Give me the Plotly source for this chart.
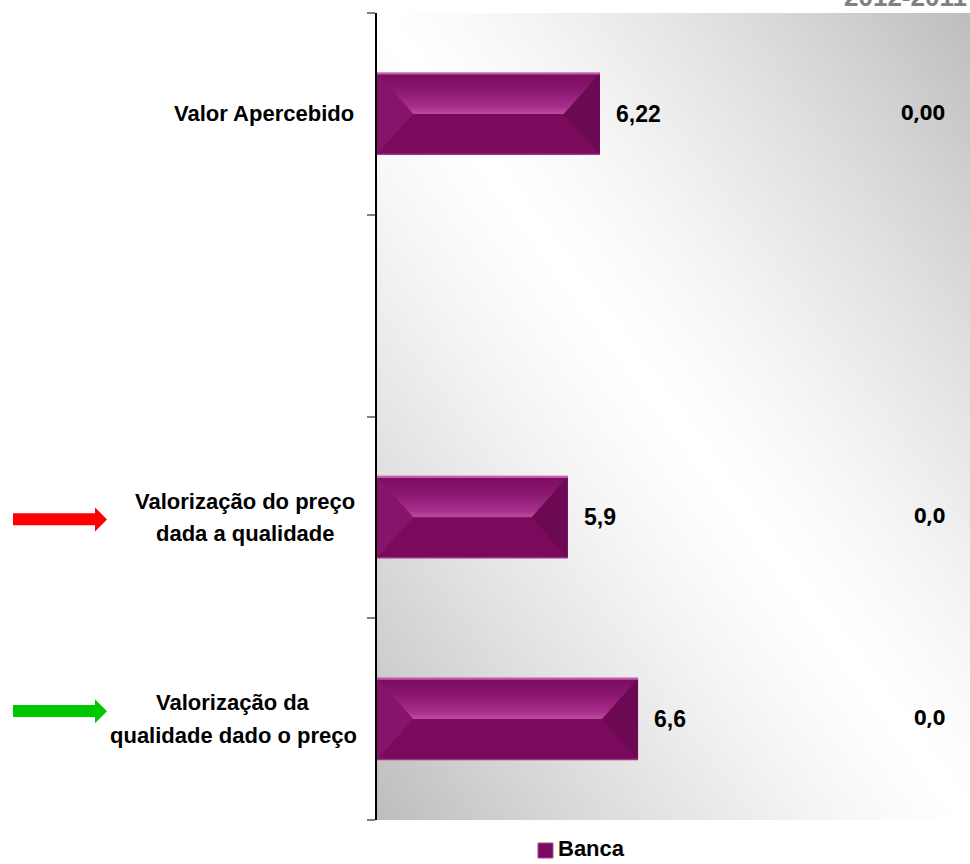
import base64
import struct
import zlib

import plotly.graph_objects as go

# ---------------- data ----------------
categorias = [
    "Valor Apercebido",
    "",
    "Valorização do preço<br>dada a qualidade",
    "Valorização da<br>qualidade dado o preço",
]
banca_categorias = [
    "Valor Apercebido",
    "Valorização do preço<br>dada a qualidade",
    "Valorização da<br>qualidade dado o preço",
]
banca_valores = [6.22, 5.9, 6.6]
banca_decimais = [2, 1, 1]
variacao_textos = ["0,00", "0,0", "0,0"]
setas = {
    "Valorização do preço<br>dada a qualidade": "#ff0000",
    "Valorização da<br>qualidade dado o preço": "#00c800",
}
serie_nome = "Banca"
titulo_periodo = "2012-2011"

# ---------------- layout geometry ----------------
W, H = 970, 864
ML, MT, MB, MR = 377, 13, 44, 0
PW, PH = W - ML - MR, H - MT - MB
X_MIN, X_MAX = 4.0, 9.906
BAR_W = 0.4
CAT_PX = PH / len(categorias)

BAR_COLOUR = "#7a0a5d"


def px_x(px):
    """page pixel x -> paper x"""
    return (px - ML) / PW


def px_y(py):
    """page pixel y -> paper y"""
    return 1 - (py - MT) / PH


def y_of(cat):
    return categorias.index(cat)


# ---------------- diagonal grey background (PNG built in memory) ----------------
def gradient_png(w, h):
    diag = (w * w + h * h) ** 0.5
    dmax = w * h / diag
    rows = []
    for j in range(h):
        py = j + 0.5
        row = bytearray(w + 1)
        for i in range(w):
            px = i + 0.5
            d = abs(px * h - py * w) / diag
            t = min(d / dmax, 1.0)
            row[i + 1] = int(round(255 - 66 * t ** 1.3))
        rows.append(bytes(row))
    raw = b"".join(rows)

    def chunk(tag, data):
        c = struct.pack(">I", len(data)) + tag + data
        return c + struct.pack(">I", zlib.crc32(tag + data) & 0xFFFFFFFF)

    png = b"\x89PNG\r\n\x1a\n"
    png += chunk(b"IHDR", struct.pack(">IIBBBBB", w, h, 8, 0, 0, 0, 0))
    png += chunk(b"IDAT", zlib.compress(raw, 9))
    png += chunk(b"IEND", b"")
    return "data:image/png;base64," + base64.b64encode(png).decode()


FONT = "Liberation Sans, Arial, sans-serif"

fig = go.Figure()

# main bars
fig.add_trace(go.Bar(
    x=banca_valores,
    y=[y_of(c) for c in banca_categorias],
    orientation="h",
    width=BAR_W,
    name=serie_nome,
    marker=dict(color=BAR_COLOUR, line=dict(color="#9c3584", width=1.2)),
    hoverinfo="skip",
    showlegend=False,
))

# bevel facets on each bar
BEV = 0.36
for cat, v in zip(banca_categorias, banca_valores):
    yc = y_of(cat)
    y0, y1 = yc - BAR_W / 2, yc + BAR_W / 2
    # upper facet with a vertical highlight gradient
    fig.add_trace(go.Scatter(
        x=[X_MIN, v, v - BEV, X_MIN + BEV, X_MIN],
        y=[y0, y0, yc, yc, y0],
        mode="lines", line=dict(width=0), fill="toself",
        fillgradient=dict(type="vertical",
                          colorscale=[[0, "#c04aa0"], [0.18, "#a52e8a"],
                                      [0.6, "#8a1670"], [1, "#7c0c5f"]]),
        showlegend=False, hoverinfo="skip",
    ))
    # lower facet
    fig.add_trace(go.Scatter(
        x=[X_MIN + BEV, v - BEV, v, X_MIN, X_MIN + BEV],
        y=[yc, yc, y1, y1, yc],
        mode="lines", line=dict(width=0), fill="toself", fillcolor="#790a5c",
        showlegend=False, hoverinfo="skip",
    ))
    # left facet
    fig.add_trace(go.Scatter(
        x=[X_MIN, X_MIN + BEV, X_MIN, X_MIN],
        y=[y0, yc, y1, y0],
        mode="lines", line=dict(width=0), fill="toself", fillcolor="#86146b",
        showlegend=False, hoverinfo="skip",
    ))
    # right facet
    fig.add_trace(go.Scatter(
        x=[v, v - BEV, v, v],
        y=[y0, yc, y1, y0],
        mode="lines", line=dict(width=0), fill="toself", fillcolor="#6c0953",
        showlegend=False, hoverinfo="skip",
    ))
    # thin top highlight and bottom edge
    fig.add_shape(type="line", xref="x", yref="y", x0=X_MIN, x1=v, y0=y0, y1=y0,
                  line=dict(color="#c85aaa", width=2))
    fig.add_shape(type="line", xref="x", yref="y", x0=X_MIN, x1=v, y0=y1, y1=y1,
                  line=dict(color="#9a3382", width=1.5))

annotations = []

# category labels, one annotation per line, centred in a block ending left of the axis
label_centres_px = [264, 0, 245, 233]
LINE_PX = 32.5
for i, cat in enumerate(categorias):
    if not cat:
        continue
    lines = cat.split("<br>")
    n = len(lines)
    for k, line in enumerate(lines):
        off = (k - (n - 1) / 2) * LINE_PX
        annotations.append(dict(
            x=px_x(label_centres_px[i]), xref="paper", xanchor="center",
            y=i, yref="y", yanchor="middle", yshift=-off,
            text=line, showarrow=False,
            font=dict(family=FONT, size=22, color="black", weight="bold"),
        ))

# value labels at the bar ends
for cat, v, d in zip(banca_categorias, banca_valores, banca_decimais):
    annotations.append(dict(
        x=v, xref="x", xanchor="left", xshift=14,
        y=y_of(cat), yref="y", yanchor="middle",
        text=format(v, f".{d}f").replace(".", ","), showarrow=False,
        font=dict(family=FONT, size=23, color="black", weight="bold"),
    ))

# variation column on the right
for cat, t in zip(banca_categorias, variacao_textos):
    annotations.append(dict(
        x=px_x(947), xref="paper", xanchor="right",
        y=y_of(cat), yref="y", yanchor="middle", yshift=3,
        text=t, showarrow=False,
        font=dict(family="Open Sans, sans-serif", size=22, color="black", weight="bold"),
    ))

# period heading at the top right
annotations.append(dict(
    x=px_x(842), xref="paper", xanchor="left",
    y=px_y(14), yref="paper", yanchor="bottom",
    text=titulo_periodo, showarrow=False,
    font=dict(family=FONT, size=26, color="#808080", weight="bold"),
))

# legend key below the plot
annotations.append(dict(
    x=px_x(556), xref="paper", xanchor="left",
    y=px_y(848), yref="paper", yanchor="middle",
    text=serie_nome, showarrow=False,
    font=dict(family=FONT, size=22, color="black", weight="bold"),
))
fig.add_shape(type="rect", xref="paper", yref="paper",
              x0=px_x(538), x1=px_x(553), y0=px_y(843), y1=px_y(858),
              fillcolor=BAR_COLOUR, line=dict(color="#a8489a", width=1))

# coloured arrows next to the highlighted categories
arrow_dy_px = {"Valorização do preço<br>dada a qualidade": 2,
               "Valorização da<br>qualidade dado o preço": -8}
for cat, colour in setas.items():
    yc_px = MT + (y_of(cat) + 0.5) * CAT_PX + arrow_dy_px[cat]
    xs, xh, xe = 13, 95, 107
    sh, hh = 6, 12
    pts = [(xs, yc_px - sh), (xh, yc_px - sh), (xh, yc_px - hh), (xe, yc_px),
           (xh, yc_px + hh), (xh, yc_px + sh), (xs, yc_px + sh)]
    path = "M " + " L ".join(f"{px_x(a):.5f},{px_y(b):.5f}" for a, b in pts) + " Z"
    fig.add_shape(type="path", xref="paper", yref="paper", path=path,
                  fillcolor=colour, line=dict(width=0), layer="above")

fig.update_layout(
    width=W, height=H,
    margin=dict(l=ML, r=MR, t=MT, b=MB, pad=0, autoexpand=False),
    paper_bgcolor="white",
    plot_bgcolor="rgba(0,0,0,0)",
    images=[dict(source=gradient_png(PW, PH), xref="paper", yref="paper",
                 x=0, y=1, sizex=1, sizey=1, xanchor="left", yanchor="top",
                 sizing="stretch", layer="below")],
    xaxis=dict(range=[X_MIN, X_MAX], visible=False, fixedrange=True),
    yaxis=dict(
        range=[len(categorias) - 0.5, -0.5],
        tickmode="array",
        tickvals=[i - 0.5 for i in range(len(categorias) + 1)],
        showticklabels=False,
        ticks="outside", ticklen=8, tickwidth=1.5, tickcolor="#7f7f7f",
        showline=True, linecolor="black", linewidth=1.5,
        showgrid=False, zeroline=False, fixedrange=True,
    ),
    showlegend=False,
    annotations=annotations,
    bargap=0,
)

fig.write_html("out.html")
